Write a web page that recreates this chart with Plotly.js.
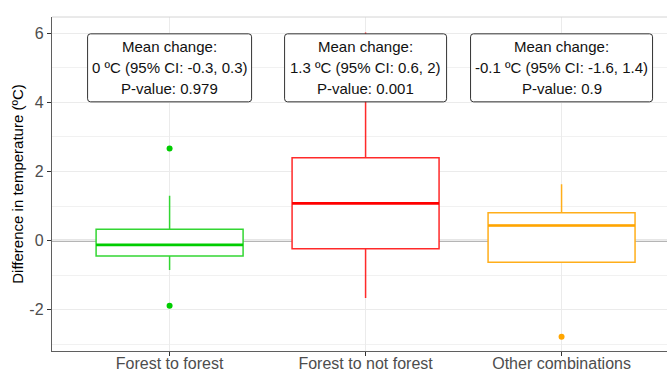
<!DOCTYPE html>
<html>
<head>
<meta charset="utf-8">
<script src="https://cdn.plot.ly/plotly-3.0.1.min.js"></script>
<style>html,body{margin:0;padding:0;background:#fff;}#chart{width:667px;height:371px;}</style>
</head>
<body>
<div id="chart"></div>
<script>
// ---- data ----
const categories = ['Forest to forest', 'Forest to not forest', 'Other combinations'];
const q1Values = [-0.44, -0.23, -0.62];
const medianValues = [-0.12, 1.08, 0.44];
const q3Values = [0.33, 2.40, 0.81];
const lowerWhiskers = [-0.85, -1.66, -0.62];
const upperWhiskers = [1.30, 6.02, 1.63];
const outlierValues = [[2.67, -1.88], [], [-2.78]];
const meanChange = ['0', '1.3', '-0.1'];
const ciLow = ['-0.3', '0.6', '-1.6'];
const ciHigh = ['0.3', '2', '1.4'];
const pValues = ['0.979', '0.001', '0.9'];
const yTickValues = [-2, 0, 2, 4, 6];
const yTickLabels = ['-2', '0', '2', '4', '6'];

// ---- styles ----
const colors = ['#00CD00', '#FF0000', '#FFA500'];
const boxLineColors = ['#33d633', '#ff2a2a', '#ffae1a'];
const boxWidth = 0.75;
const labelY = 5;
const labelBoxWidths = [164, 162, 182];
const labelBoxHeight = 68;
const FONT = 'Liberation Sans, Arial, sans-serif';

const xIdx = categories.map((c, i) => i);
const traces = [];
categories.forEach((c, i) => {
  traces.push({
    type: 'box', x: [i], q1: [q1Values[i]], median: [medianValues[i]], q3: [q3Values[i]],
    lowerfence: [lowerWhiskers[i]], upperfence: [upperWhiskers[i]],
    width: boxWidth, whiskerwidth: 0, fillcolor: 'rgba(255,255,255,1)',
    line: { color: boxLineColors[i], width: 1.5 }, hoverinfo: 'skip', showlegend: false
  });
  traces.push({
    type: 'scatter', mode: 'lines', x: [i - boxWidth / 2, i + boxWidth / 2],
    y: [medianValues[i], medianValues[i]],
    line: { color: colors[i], width: 2.6 }, hoverinfo: 'skip', showlegend: false
  });
  traces.push({
    type: 'scatter', mode: 'markers', x: outlierValues[i].map(() => i), y: outlierValues[i],
    marker: { color: colors[i], size: 6 }, hoverinfo: 'skip', showlegend: false
  });
});

const shapes = [
  { type: 'line', xref: 'paper', yref: 'paper', x0: 0, x1: 1, y0: 1, y1: 1,
    line: { color: '#d4d4d4', width: 1 } },
  { type: 'line', xref: 'paper', yref: 'y', x0: 0, x1: 1, y0: 0, y1: 0,
    line: { color: '#9c9c9c', width: 2 }, layer: 'between' }
];
const annotations = [];
const r = 3;
categories.forEach((c, i) => {
  const w = labelBoxWidths[i] / 2, h = labelBoxHeight / 2;
  shapes.push({
    type: 'path', xref: 'x', yref: 'y', xsizemode: 'pixel', ysizemode: 'pixel',
    xanchor: i, yanchor: labelY,
    path: `M ${-w + r},${-h} L ${w - r},${-h} Q ${w},${-h} ${w},${-h + r} L ${w},${h - r} Q ${w},${h} ${w - r},${h} L ${-w + r},${h} Q ${-w},${h} ${-w},${h - r} L ${-w},${-h + r} Q ${-w},${-h} ${-w + r},${-h} Z`,
    fillcolor: '#ffffff', line: { color: '#333333', width: 1 }, layer: 'above'
  });
  const lines = ['Mean change:', `${meanChange[i]} ºC (95% CI: ${ciLow[i]}, ${ciHigh[i]})`, `P-value: ${pValues[i]}`];
  lines.forEach((t, k) => {
    annotations.push({
      x: i, y: labelY, xref: 'x', yref: 'y', text: t, showarrow: false,
      yshift: 21 * (1 - k), font: { family: FONT, size: 15, color: '#111111' },
      xanchor: 'center', yanchor: 'middle'
    });
  });
});

const layout = {
  width: 667, height: 371,
  margin: { l: 52, r: 0, t: 17, b: 20, pad: 0 },
  paper_bgcolor: '#ffffff', plot_bgcolor: '#ffffff',
  font: { family: FONT },
  xaxis: {
    range: [-0.6, 2.538], tickvals: xIdx, ticktext: categories,
    showgrid: true, gridcolor: '#ebebeb', gridwidth: 1, zeroline: false,
    showline: true, linecolor: '#5f5f5f', linewidth: 1.2,
    ticks: 'outside', ticklen: 4, tickcolor: '#333333', tickwidth: 1.2,
    ticklabelstandoff: -6,
    tickfont: { family: FONT, size: 16, color: '#4d4d4d' }, automargin: false
  },
  yaxis: {
    range: [-3.19, 6.47], tickvals: yTickValues, ticktext: yTickLabels,
    showgrid: true, gridcolor: '#ebebeb', gridwidth: 1,
    minor: { dtick: 1, showgrid: true, gridcolor: '#f1f1f1', gridwidth: 1 },
    zeroline: false,
    showline: true, linecolor: '#5f5f5f', linewidth: 1.2,
    ticks: 'outside', ticklen: 4, tickcolor: '#333333', tickwidth: 1.2,
    tickfont: { family: FONT, size: 16, color: '#4d4d4d' },
    title: { text: 'Difference in temperature (ºC)', font: { family: FONT, size: 15, color: '#000000' }, standoff: 2 },
    automargin: false
  },
  shapes: shapes,
  annotations: annotations,
  showlegend: false
};

Plotly.newPlot('chart', traces, layout, { staticPlot: true, displayModeBar: false });
</script>
</body>
</html>
